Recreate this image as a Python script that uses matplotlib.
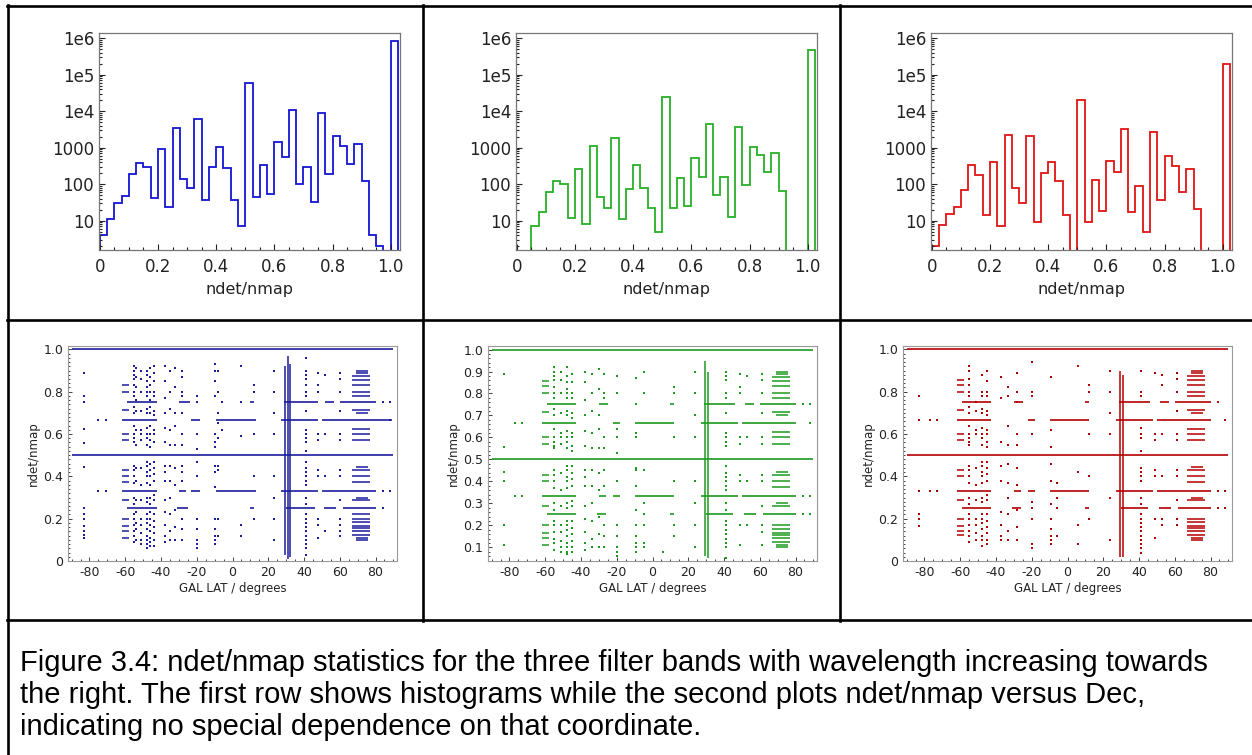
import numpy as np
import matplotlib
matplotlib.use('Agg')
import matplotlib.pyplot as plt
from matplotlib.lines import Line2D
from matplotlib.ticker import FixedLocator, FixedFormatter, MultipleLocator, LogLocator, NullFormatter

plt.rcParams['font.family'] = ['DejaVu Sans']
plt.rcParams['axes.unicode_minus'] = False

# ---- histogram data: counts per 0.025 bin of ndet/nmap (0 .. 1.025) ----
bin_edges = np.round(np.arange(42) * 0.025, 4)
blue_counts = [4, 11, 30, 48, 190, 385, 290, 42, 900, 24, 3500, 140, 78, 6300, 37, 300, 1050, 280, 38, 7,
               58000, 45, 340, 55, 1450, 550, 11000, 105, 300, 33, 9000, 190, 2100, 1150, 350, 1300, 120, 4, 2, 0,
               850000]
green_counts = [0, 0, 7, 17, 62, 125, 100, 12, 260, 8, 1150, 45, 22, 1900, 11, 75, 340, 80, 22, 5,
                25000, 23, 150, 26, 510, 160, 4500, 50, 160, 13, 3800, 93, 1080, 620, 220, 740, 64, 0, 0, 0,
                480000]
red_counts = [2, 7.5, 15, 24, 68, 330, 180, 14, 420, 7, 2300, 78, 31, 2100, 9, 200, 400, 125, 14, 0,
              20000, 9, 135, 18, 440, 220, 3200, 17, 92, 5, 2700, 37, 600, 310, 60, 270, 21, 0, 0, 0,
              200000]

# ---- scatter data: ndet/nmap versus galactic latitude ----
# rows: (ndet/nmap, lat from, lat to) runs of points that merge into lines
# blocks: (lat from, lat to, [ndet/nmap levels])
# cols: (lat, [ndet/nmap values]) separate points
# vruns: (lat, ndet/nmap from, ndet/nmap to) dense vertical runs
blue_rows = [(1.0, -90, 90), (0.5, -90, 90),
             (0.667, -62, -42), (0.667, -23, -18), (0.667, -9, 13), (0.667, 27, 48), (0.667, 50, 89),
             (0.333, -62, -42), (0.333, -30, -26), (0.333, -23, -18), (0.333, -9, 13), (0.333, 27, 48),
             (0.333, 50, 80),
             (0.75, -59, -42), (0.75, -30, -24), (0.75, 10, 12), (0.75, 29, 48), (0.75, 52, 57), (0.75, 60, 80),
             (0.25, -59, -42), (0.25, -31, -25), (0.25, 10, 12), (0.25, 30, 46), (0.25, 51, 58), (0.25, 62, 80)]
blue_blocks = [(-62, -58, [0.833, 0.8, 0.714, 0.6, 0.571, 0.429, 0.4, 0.375, 0.286, 0.2, 0.167, 0.143, 0.111]),
               (67, 77, [0.875, 0.857, 0.833, 0.8, 0.778, 0.714, 0.625, 0.6, 0.571, 0.429, 0.4, 0.375, 0.286,
                         0.222, 0.2, 0.182, 0.167, 0.154, 0.143, 0.125]),
               (69, 76, [0.9, 0.889, 0.7, 0.444, 0.3, 0.111, 0.1])]
blue_cols = [(-83, [0.889, 0.778, 0.75, 0.625, 0.556, 0.444, 0.25, 0.222, 0.2, 0.167, 0.143, 0.125, 0.111]),
             (-75, [0.667, 0.333]), (-71, [0.667, 0.333]),
             (-55, [0.92, 0.9, 0.88, 0.86, 0.83, 0.8, 0.78, 0.73, 0.7, 0.64, 0.6, 0.58, 0.56, 0.45, 0.43, 0.4,
                    0.37, 0.3, 0.27, 0.22, 0.2, 0.17, 0.14, 0.12, 0.09]),
             (-54, [0.91, 0.87, 0.82, 0.76, 0.71, 0.62, 0.55, 0.44, 0.38, 0.29, 0.23, 0.18, 0.15, 0.1]),
             (-51, [0.9, 0.86, 0.8, 0.71, 0.62, 0.6, 0.57, 0.44, 0.36, 0.29, 0.2, 0.17, 0.13, 0.1, 0.08]),
             (-48, [0.9, 0.88, 0.85, 0.82, 0.8, 0.78, 0.72, 0.7, 0.63, 0.6, 0.58, 0.55, 0.47, 0.45, 0.42, 0.4,
                    0.37, 0.3, 0.28, 0.22, 0.2, 0.18, 0.15, 0.12, 0.1, 0.08, 0.06]),
             (-46, [0.91, 0.87, 0.83, 0.8, 0.76, 0.73, 0.7, 0.64, 0.6, 0.57, 0.54, 0.46, 0.43, 0.4, 0.36, 0.3,
                    0.27, 0.23, 0.2, 0.17, 0.14, 0.11, 0.09, 0.07]),
             (-44, [0.92, 0.89, 0.85, 0.8, 0.78, 0.71, 0.69, 0.62, 0.6, 0.56, 0.47, 0.44, 0.41, 0.38, 0.31, 0.29,
                    0.22, 0.19, 0.16, 0.13, 0.1, 0.07]),
             (-38, [0.92, 0.85, 0.77, 0.7, 0.63, 0.56, 0.45, 0.42, 0.38, 0.29, 0.23, 0.17, 0.12, 0.09]),
             (-35, [0.9, 0.8, 0.72, 0.62, 0.55, 0.45, 0.38, 0.3, 0.22, 0.14, 0.1]),
             (-32, [0.91, 0.82, 0.7, 0.64, 0.55, 0.44, 0.36, 0.24, 0.16, 0.1]),
             (-28, [0.9, 0.87, 0.8, 0.78, 0.7, 0.6, 0.55, 0.45, 0.42, 0.38, 0.2, 0.15, 0.1]),
             (-20, [0.78, 0.75, 0.6, 0.53, 0.47, 0.4, 0.2, 0.15, 0.1, 0.08, 0.06]),
             (-10, [0.93, 0.9, 0.85, 0.78, 0.6, 0.56, 0.54, 0.45, 0.42, 0.35, 0.2, 0.15, 0.12, 0.1, 0.08]),
             (-8, [0.9, 0.8, 0.7, 0.65, 0.58, 0.45, 0.43, 0.2, 0.12]),
             (-6, [0.75, 0.62]),
             (5, [0.92, 0.75, 0.59, 0.17, 0.12]),
             (12, [0.83, 0.8, 0.6, 0.4, 0.2]),
             (23, [0.9, 0.8, 0.7, 0.6, 0.4, 0.3, 0.2, 0.1]),
             (41, [0.96, 0.9, 0.88, 0.86, 0.83, 0.8, 0.78, 0.71, 0.62, 0.6, 0.58, 0.56, 0.52, 0.47, 0.44, 0.42,
                   0.4, 0.38, 0.36, 0.3, 0.27, 0.22, 0.2, 0.18, 0.16, 0.14, 0.12, 0.1, 0.08, 0.06, 0.03]),
             (48, [0.89, 0.83, 0.8, 0.6, 0.57, 0.43, 0.4, 0.2, 0.17, 0.11]),
             (52, [0.88, 0.6, 0.4, 0.14]),
             (60, [0.89, 0.86, 0.8, 0.71, 0.6, 0.57, 0.43, 0.4, 0.29, 0.2, 0.17, 0.14, 0.12]),
             (84, [0.75, 0.333, 0.25]), (88, [0.75, 0.667, 0.333])]
blue_vruns = [(29.5, 0.03, 0.92), (31.0, 0.01, 0.97), (32.0, 0.02, 0.93)]

green_rows = [(1.0, -90, 90), (0.5, -90, 90),
              (0.667, -62, -43), (0.667, -22, -18), (0.667, -10, 12), (0.667, 27, 48), (0.667, 50, 80),
              (0.333, -62, -43), (0.333, -30, -26), (0.333, -22, -18), (0.333, -10, 12), (0.333, 27, 48),
              (0.333, 50, 80),
              (0.75, -59, -43), (0.75, -30, -25), (0.75, 10, 12), (0.75, 29, 46), (0.75, 52, 57), (0.75, 60, 80),
              (0.25, -59, -43), (0.25, -31, -26), (0.25, 10, 12), (0.25, 30, 45), (0.25, 51, 58), (0.25, 62, 80)]
green_blocks = [(-62, -58, [0.857, 0.833, 0.8, 0.714, 0.6, 0.571, 0.429, 0.4, 0.286, 0.2, 0.167, 0.143, 0.111]),
                (67, 77, [0.875, 0.857, 0.833, 0.8, 0.778, 0.714, 0.625, 0.6, 0.571, 0.429, 0.4, 0.375, 0.286,
                          0.2, 0.182, 0.167, 0.154, 0.143, 0.125]),
                (69, 76, [0.9, 0.889, 0.7, 0.444, 0.3, 0.111, 0.1])]
green_cols = [(-83, [0.889, 0.556, 0.444, 0.4, 0.2, 0.111]),
              (-77, [0.667, 0.333]), (-73, [0.667, 0.333]),
              (-55, [0.92, 0.9, 0.88, 0.86, 0.83, 0.8, 0.78, 0.73, 0.7, 0.64, 0.6, 0.58, 0.56, 0.55, 0.45, 0.43,
                     0.4, 0.37, 0.3, 0.27, 0.22, 0.2, 0.17, 0.14, 0.12, 0.09]),
              (-51, [0.9, 0.86, 0.8, 0.71, 0.62, 0.6, 0.57, 0.44, 0.36, 0.29, 0.2, 0.17, 0.13, 0.1, 0.08]),
              (-48, [0.92, 0.88, 0.85, 0.82, 0.8, 0.78, 0.72, 0.7, 0.63, 0.6, 0.58, 0.55, 0.47, 0.45, 0.42, 0.4,
                     0.37, 0.3, 0.28, 0.22, 0.2, 0.18, 0.15, 0.12, 0.1, 0.08, 0.07]),
              (-45, [0.89, 0.85, 0.8, 0.78, 0.71, 0.69, 0.62, 0.6, 0.56, 0.54, 0.47, 0.44, 0.41, 0.38, 0.31,
                     0.29, 0.22, 0.19, 0.16, 0.13, 0.1, 0.08]),
              (-38, [0.9, 0.85, 0.77, 0.7, 0.63, 0.56, 0.45, 0.42, 0.38, 0.29, 0.23, 0.17, 0.12, 0.09]),
              (-34, [0.89, 0.8, 0.72, 0.62, 0.55, 0.45, 0.38, 0.3, 0.22, 0.14, 0.1]),
              (-30, [0.91, 0.82, 0.7, 0.64, 0.55, 0.44, 0.36, 0.24, 0.16, 0.1]),
              (-27, [0.89, 0.8, 0.78, 0.6, 0.55, 0.45, 0.38, 0.2, 0.15, 0.1]),
              (-20, [0.88, 0.8, 0.64, 0.6, 0.53, 0.4, 0.2, 0.15, 0.1, 0.08, 0.06]),
              (-9, [0.87, 0.75, 0.62, 0.6, 0.46, 0.45, 0.38, 0.27, 0.2, 0.15, 0.12, 0.1, 0.08]),
              (-5, [0.9, 0.8, 0.45, 0.3, 0.25, 0.2, 0.12, 0.1]),
              (6, [0.08]),
              (12, [0.83, 0.8, 0.6, 0.4, 0.2, 0.15]),
              (24, [0.9, 0.8, 0.7, 0.6, 0.4, 0.3, 0.2, 0.1]),
              (41, [0.9, 0.88, 0.86, 0.8, 0.78, 0.71, 0.62, 0.6, 0.58, 0.56, 0.47, 0.44, 0.42, 0.4, 0.38, 0.36,
                    0.3, 0.27, 0.22, 0.2, 0.18, 0.16, 0.14, 0.12, 0.1, 0.05]),
              (49, [0.89, 0.83, 0.8, 0.6, 0.57, 0.43, 0.4, 0.2, 0.11]),
              (53, [0.88, 0.6, 0.4, 0.2]),
              (61, [0.89, 0.86, 0.8, 0.71, 0.6, 0.57, 0.43, 0.4, 0.29, 0.2, 0.17, 0.11]),
              (84, [0.75, 0.333, 0.25]), (88, [0.75, 0.667, 0.333, 0.25])]
green_vruns = [(29.5, 0.06, 0.95), (31.0, 0.05, 0.9)]

red_rows = [(1.0, -90, 90), (0.5, -90, 90),
            (0.667, -62, -43), (0.667, -22, -18), (0.667, -10, 12), (0.667, 27, 48), (0.667, 50, 80),
            (0.333, -62, -43), (0.333, -30, -26), (0.333, -22, -18), (0.333, -10, 12), (0.333, 27, 48),
            (0.333, 50, 80),
            (0.75, -59, -43), (0.75, -30, -25), (0.75, 10, 12), (0.75, 29, 46), (0.75, 52, 57), (0.75, 60, 80),
            (0.25, -59, -43), (0.25, -31, -26), (0.25, 10, 12), (0.25, 30, 45), (0.25, 51, 58), (0.25, 62, 80)]
red_blocks = [(-62, -58, [0.857, 0.833, 0.8, 0.714, 0.6, 0.571, 0.429, 0.4, 0.286, 0.2, 0.167, 0.143, 0.125]),
              (67, 77, [0.875, 0.857, 0.833, 0.8, 0.778, 0.714, 0.625, 0.6, 0.571, 0.429, 0.4, 0.375, 0.286,
                        0.2, 0.182, 0.167, 0.154, 0.143, 0.125]),
              (69, 76, [0.9, 0.889, 0.7, 0.444, 0.3, 0.111, 0.1])]
red_cols = [(-83, [0.778, 0.667, 0.333, 0.222, 0.2, 0.167]),
            (-77, [0.667, 0.333]), (-73, [0.667, 0.333]),
            (-55, [0.92, 0.9, 0.86, 0.83, 0.8, 0.78, 0.73, 0.7, 0.64, 0.6, 0.58, 0.56, 0.55, 0.45, 0.43,
                   0.4, 0.37, 0.3, 0.27, 0.22, 0.2, 0.17, 0.14, 0.12, 0.09]),
            (-51, [0.75, 0.71, 0.62, 0.6, 0.44, 0.36, 0.29, 0.2, 0.17, 0.13, 0.1]),
            (-48, [0.88, 0.8, 0.78, 0.72, 0.7, 0.63, 0.6, 0.58, 0.55, 0.47, 0.45, 0.42, 0.4,
                   0.37, 0.3, 0.28, 0.22, 0.2, 0.18, 0.15, 0.12, 0.1, 0.07]),
            (-45, [0.9, 0.85, 0.8, 0.78, 0.71, 0.69, 0.62, 0.6, 0.56, 0.54, 0.47, 0.44, 0.41, 0.38, 0.31,
                   0.29, 0.22, 0.19, 0.16, 0.13, 0.1, 0.08]),
            (-37, [0.87, 0.77, 0.56, 0.45, 0.38, 0.23, 0.17, 0.12, 0.1]),
            (-33, [0.82, 0.78, 0.64, 0.55, 0.46, 0.37, 0.3, 0.22, 0.14, 0.1]),
            (-28, [0.89, 0.8, 0.75, 0.6, 0.55, 0.44, 0.36, 0.24, 0.16, 0.1]),
            (-20, [0.94, 0.8, 0.78, 0.6, 0.28, 0.25, 0.2, 0.08, 0.06]),
            (-9, [0.87, 0.62, 0.54, 0.46, 0.38, 0.27, 0.2, 0.15, 0.12, 0.1, 0.08]),
            (-6, [0.37, 0.3, 0.25, 0.12]),
            (6, [0.92, 0.42, 0.17, 0.08]),
            (12, [0.83, 0.8, 0.6, 0.4, 0.2]),
            (24, [0.9, 0.8, 0.7, 0.6, 0.3, 0.1]),
            (41, [0.9, 0.8, 0.78, 0.63, 0.6, 0.58, 0.52, 0.44, 0.42, 0.4, 0.38, 0.3, 0.27, 0.22, 0.2,
                  0.18, 0.16, 0.14, 0.12, 0.1, 0.08, 0.06, 0.04]),
            (49, [0.89, 0.6, 0.57, 0.43, 0.4, 0.2, 0.11]),
            (53, [0.88, 0.83, 0.6, 0.4, 0.2, 0.17]),
            (61, [0.89, 0.86, 0.8, 0.71, 0.6, 0.57, 0.43, 0.4, 0.29, 0.2, 0.17]),
            (84, [0.75, 0.333, 0.25]), (88, [0.667, 0.333, 0.25])]
red_vruns = [(29.5, 0.02, 0.9), (31.0, 0.02, 0.88)]

hist_sets = [(blue_counts, '#1414d2'), (green_counts, '#28b028'), (red_counts, '#e01414')]
scat_sets = [(blue_rows, blue_blocks, blue_cols, blue_vruns, '#1c1c9c'),
             (green_rows, green_blocks, green_cols, green_vruns, '#1e9a1e'),
             (red_rows, red_blocks, red_cols, red_vruns, '#b40000')]

W, H = 1252, 755
fig = plt.figure(figsize=(W / 100, H / 100), dpi=100)


def fx(px):
    return px / W


def fy(py):
    return 1 - py / H


hist_left = [99, 516, 931]
for k, (counts, col) in enumerate(hist_sets):
    ax = fig.add_axes([fx(hist_left[k]), fy(250), fx(301), 217 / H])
    c = np.array(counts, dtype=float)
    c[c <= 0] = 1e-3
    ax.stairs(c, bin_edges, baseline=1e-3, color=col, lw=1.3)
    ax.set_yscale('log')
    ax.set_ylim(1.58, 1.4e6)
    ax.set_xlim(-0.003, 1.032)
    ax.yaxis.set_major_locator(FixedLocator([10, 100, 1000, 1e4, 1e5, 1e6]))
    ax.yaxis.set_major_formatter(FixedFormatter(['10', '100', '1000', '1e4', '1e5', '1e6']))
    ax.yaxis.set_minor_locator(LogLocator(base=10, subs=np.arange(2, 10)))
    ax.yaxis.set_minor_formatter(NullFormatter())
    ax.xaxis.set_major_locator(FixedLocator([0, 0.2, 0.4, 0.6, 0.8, 1.0]))
    ax.xaxis.set_major_formatter(FixedFormatter(['0', '0.2', '0.4', '0.6', '0.8', '1.0']))
    ax.xaxis.set_minor_locator(MultipleLocator(0.05))
    ax.tick_params(which='both', direction='in', labelsize=12, colors='#222222', width=0.8)
    ax.tick_params(which='major', length=4)
    ax.tick_params(which='minor', length=2)
    ax.tick_params(axis='x', pad=6)
    for s in ax.spines.values():
        s.set_color('#777777')
        s.set_linewidth(0.9)
    ax.set_xlabel('ndet/nmap', fontsize=11.5, color='#222222', labelpad=4)

scat_left = [68, 488, 903]
for k, (rows, blocks, cols, vruns, col) in enumerate(scat_sets):
    ax = fig.add_axes([fx(scat_left[k]), fy(561), fx(329), 215 / H])
    for y, a, b in rows:
        ax.hlines(y, a, b, color=col, lw=1.2)
    for a, b, ys in blocks:
        ax.hlines(ys, a, b, color=col, lw=1.1)
    for x, y0, y1 in vruns:
        ax.vlines(x, y0, y1, color=col, lw=1.1)
    for x, ys in cols:
        ax.scatter([x] * len(ys), ys, s=4, marker='s', color=col, linewidths=0)
    ax.set_xlim(-92, 92)
    ax.xaxis.set_major_locator(FixedLocator([-80, -60, -40, -20, 0, 20, 40, 60, 80]))
    ax.xaxis.set_minor_locator(MultipleLocator(5))
    if k == 1:
        ax.set_ylim(0.038, 1.016)
        ax.yaxis.set_major_locator(FixedLocator([0.1, 0.2, 0.3, 0.4, 0.5, 0.6, 0.7, 0.8, 0.9, 1.0]))
        ax.yaxis.set_major_formatter(FixedFormatter(['0.1', '0.2', '0.3', '0.4', '0.5', '0.6', '0.7', '0.8',
                                                     '0.9', '1.0']))
    else:
        ax.set_ylim(0, 1.016)
        ax.yaxis.set_major_locator(FixedLocator([0, 0.2, 0.4, 0.6, 0.8, 1.0]))
        ax.yaxis.set_major_formatter(FixedFormatter(['0', '0.2', '0.4', '0.6', '0.8', '1.0']))
    ax.yaxis.set_minor_locator(MultipleLocator(0.02))
    ax.tick_params(which='both', direction='in', labelsize=9, colors='#222222', width=0.6)
    ax.tick_params(which='major', length=3)
    ax.tick_params(which='minor', length=1.5)
    for s in ax.spines.values():
        s.set_color('#999999')
        s.set_linewidth(0.8)
    ax.set_xlabel('GAL LAT / degrees', fontsize=8.5, color='#222222', labelpad=2)
    ax.set_ylabel('ndet/nmap', fontsize=8.5, color='#222222', labelpad=2)

# table borders
lw_tab = 1.9
for y0 in [6, 320, 620]:
    fig.add_artist(Line2D([fx(7), 1], [fy(y0), fy(y0)], color='black', lw=lw_tab))
fig.add_artist(Line2D([fx(8), fx(8)], [fy(5), 0], color='black', lw=lw_tab))
for x0 in [423, 840]:
    fig.add_artist(Line2D([fx(x0), fx(x0)], [fy(5), fy(621)], color='black', lw=lw_tab))

caption = ['Figure 3.4: ndet/nmap statistics for the three filter bands with wavelength increasing towards',
           'the right. The first row shows histograms while the second plots ndet/nmap versus Dec,',
           'indicating no special dependence on that coordinate.']
for i, line in enumerate(caption):
    fig.text(fx(20), fy(671 + 32 * i), line, family='Liberation Sans', fontsize=21,
             va='baseline', ha='left', color='black')

fig.savefig('out.png', dpi=100)
